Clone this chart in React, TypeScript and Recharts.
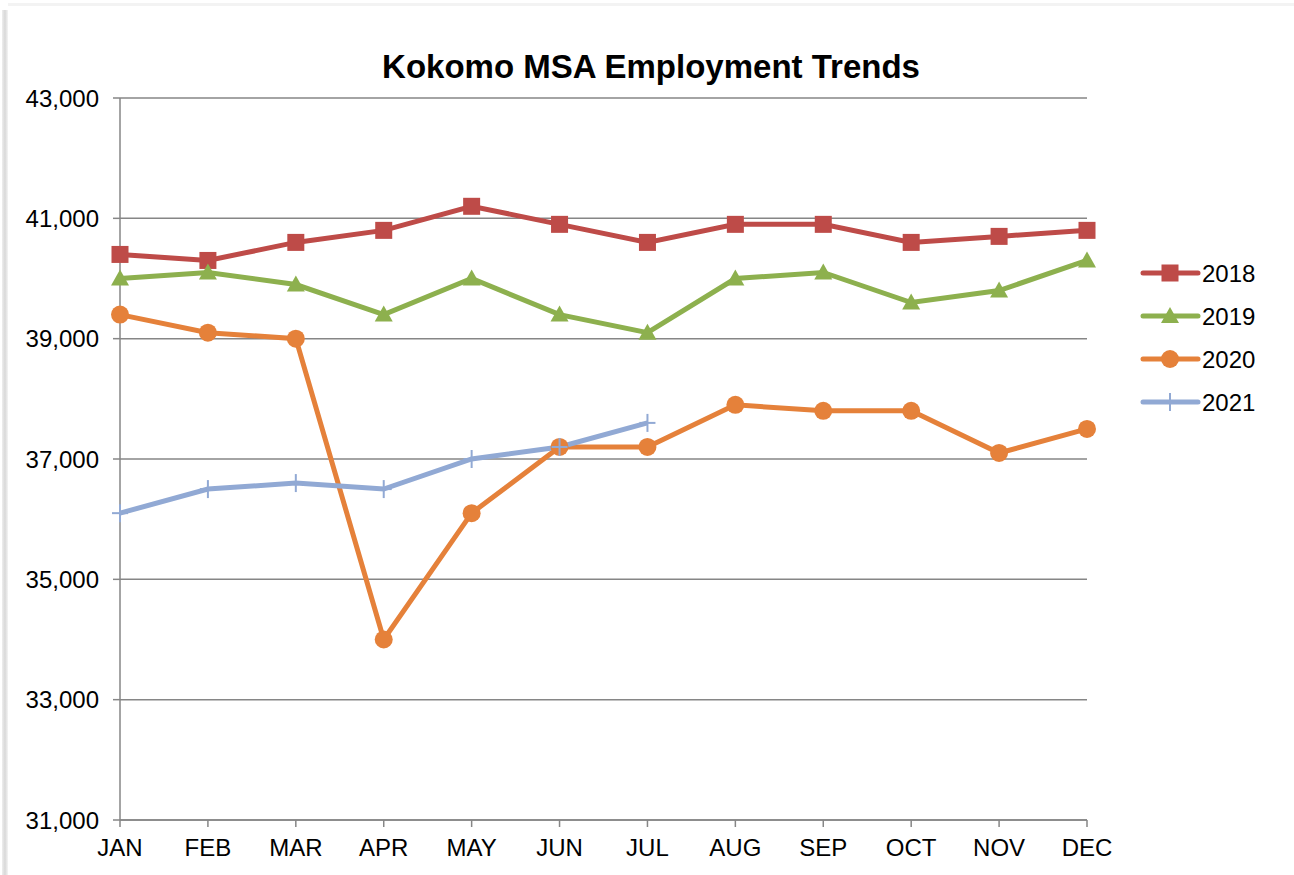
import React from "react";
import { LineChart, Line, XAxis, YAxis, CartesianGrid } from "recharts";

const months = ["JAN", "FEB", "MAR", "APR", "MAY", "JUN", "JUL", "AUG", "SEP", "OCT", "NOV", "DEC"];
const y2018 = [40400, 40300, 40600, 40800, 41200, 40900, 40600, 40900, 40900, 40600, 40700, 40800];
const y2019 = [40000, 40100, 39900, 39400, 40000, 39400, 39100, 40000, 40100, 39600, 39800, 40300];
const y2020 = [39400, 39100, 39000, 34000, 36100, 37200, 37200, 37900, 37800, 37800, 37100, 37500];
const y2021 = [36100, 36500, 36600, 36500, 37000, 37200, 37600];
const yTicks = [31000, 33000, 35000, 37000, 39000, 41000, 43000];

const data = months.map((m, i) => ({
  month: m,
  s2018: y2018[i],
  s2019: y2019[i],
  s2020: y2020[i],
  s2021: i < y2021.length ? y2021[i] : null,
}));

const series = [
  { key: "s2018", name: "2018", color: "#BE4B48", shape: "square" },
  { key: "s2019", name: "2019", color: "#8DB04E", shape: "triangle" },
  { key: "s2020", name: "2020", color: "#E5813A", shape: "circle" },
  { key: "s2021", name: "2021", color: "#91A9D4", shape: "plus" },
];

function Marker({ cx, cy, shape, color }: { cx: number; cy: number; shape: string; color: string }) {
  if (cx == null || cy == null) return null;
  if (shape === "square") return <rect x={cx - 8.5} y={cy - 8.5} width={17} height={17} fill={color} />;
  if (shape === "triangle")
    return <polygon points={`${cx},${cy - 9} ${cx + 9},${cy + 7} ${cx - 9},${cy + 7}`} fill={color} />;
  if (shape === "circle") return <circle cx={cx} cy={cy} r={9} fill={color} />;
  return (
    <g stroke={color} strokeWidth={2}>
      <line x1={cx - 8} y1={cy} x2={cx + 8} y2={cy} />
      <line x1={cx} y1={cy - 9} x2={cx} y2={cy + 9} />
    </g>
  );
}

const fmt = (v: number) => v.toLocaleString("en-US");

function LegendBox() {
  return (
    <svg width={150} height={160} style={{ position: "absolute", left: 1140, top: 261 }}>
      {series.map((s, i) => {
        const y = 12 + i * 43;
        return (
          <g key={s.key}>
            <line x1={3} y1={y} x2={58} y2={y} stroke={s.color} strokeWidth={5} strokeLinecap="round" />
            <Marker cx={30} cy={y} shape={s.shape} color={s.color} />
            <text x={62} y={y + 8.5} fontSize={24} fill="#000" fontFamily="Liberation Sans, Arial, sans-serif">
              {s.name}
            </text>
          </g>
        );
      })}
    </svg>
  );
}

export default function App() {
  return (
    <div
      style={{
        position: "absolute",
        left: 0,
        top: 0,
        width: 1294,
        height: 875,
        background: "#fff",
        fontFamily: "Liberation Sans, Arial, sans-serif",
      }}
    >
      <div style={{ position: "absolute", left: 2, top: 10, width: 6, height: 865, background: "linear-gradient(to right, #eee, #d8d8d8, #f4f4f4)" }} />
      <div style={{ position: "absolute", left: 8, top: 3, width: 1286, height: 3, background: "#f3f3f3" }} />
      <div
        style={{
          position: "absolute",
          left: 0,
          top: 48,
          width: 1302,
          textAlign: "center",
          fontSize: 33,
          fontWeight: "bold",
          color: "#000",
        }}
      >
        Kokomo MSA Employment Trends
      </div>
      <LineChart width={1294} height={875} data={data} margin={{ top: 98, right: 207, bottom: 0, left: 10 }}>
        <CartesianGrid vertical={false} stroke="#868686" strokeWidth={1.5} />
        <XAxis
          dataKey="month"
          stroke="#868686"
          strokeWidth={1.5}
          tickSize={7}
          tickMargin={12}
          tick={{ fill: "#000", fontSize: 24 }}
          interval={0}
          padding={{ left: 0, right: 0 }}
          height={55}
        />
        <YAxis
          domain={[31000, 43000]}
          ticks={yTicks}
          tickFormatter={fmt}
          stroke="#868686"
          strokeWidth={1.5}
          tickSize={7}
          tickMargin={14}
          tick={{ fill: "#000", fontSize: 24 }}
          width={110}
          allowDataOverflow
        />
        {series.map((s) => (
          <Line
            key={s.key}
            dataKey={s.key}
            name={s.name}
            stroke={s.color}
            strokeWidth={5}
            isAnimationActive={false}
            dot={(p: any) => <Marker key={`${s.key}-${p.index}`} cx={p.cx} cy={p.cy} shape={s.shape} color={s.color} />}
            activeDot={false}
            connectNulls={false}
          />
        ))}
      </LineChart>
      <LegendBox />
    </div>
  );
}
